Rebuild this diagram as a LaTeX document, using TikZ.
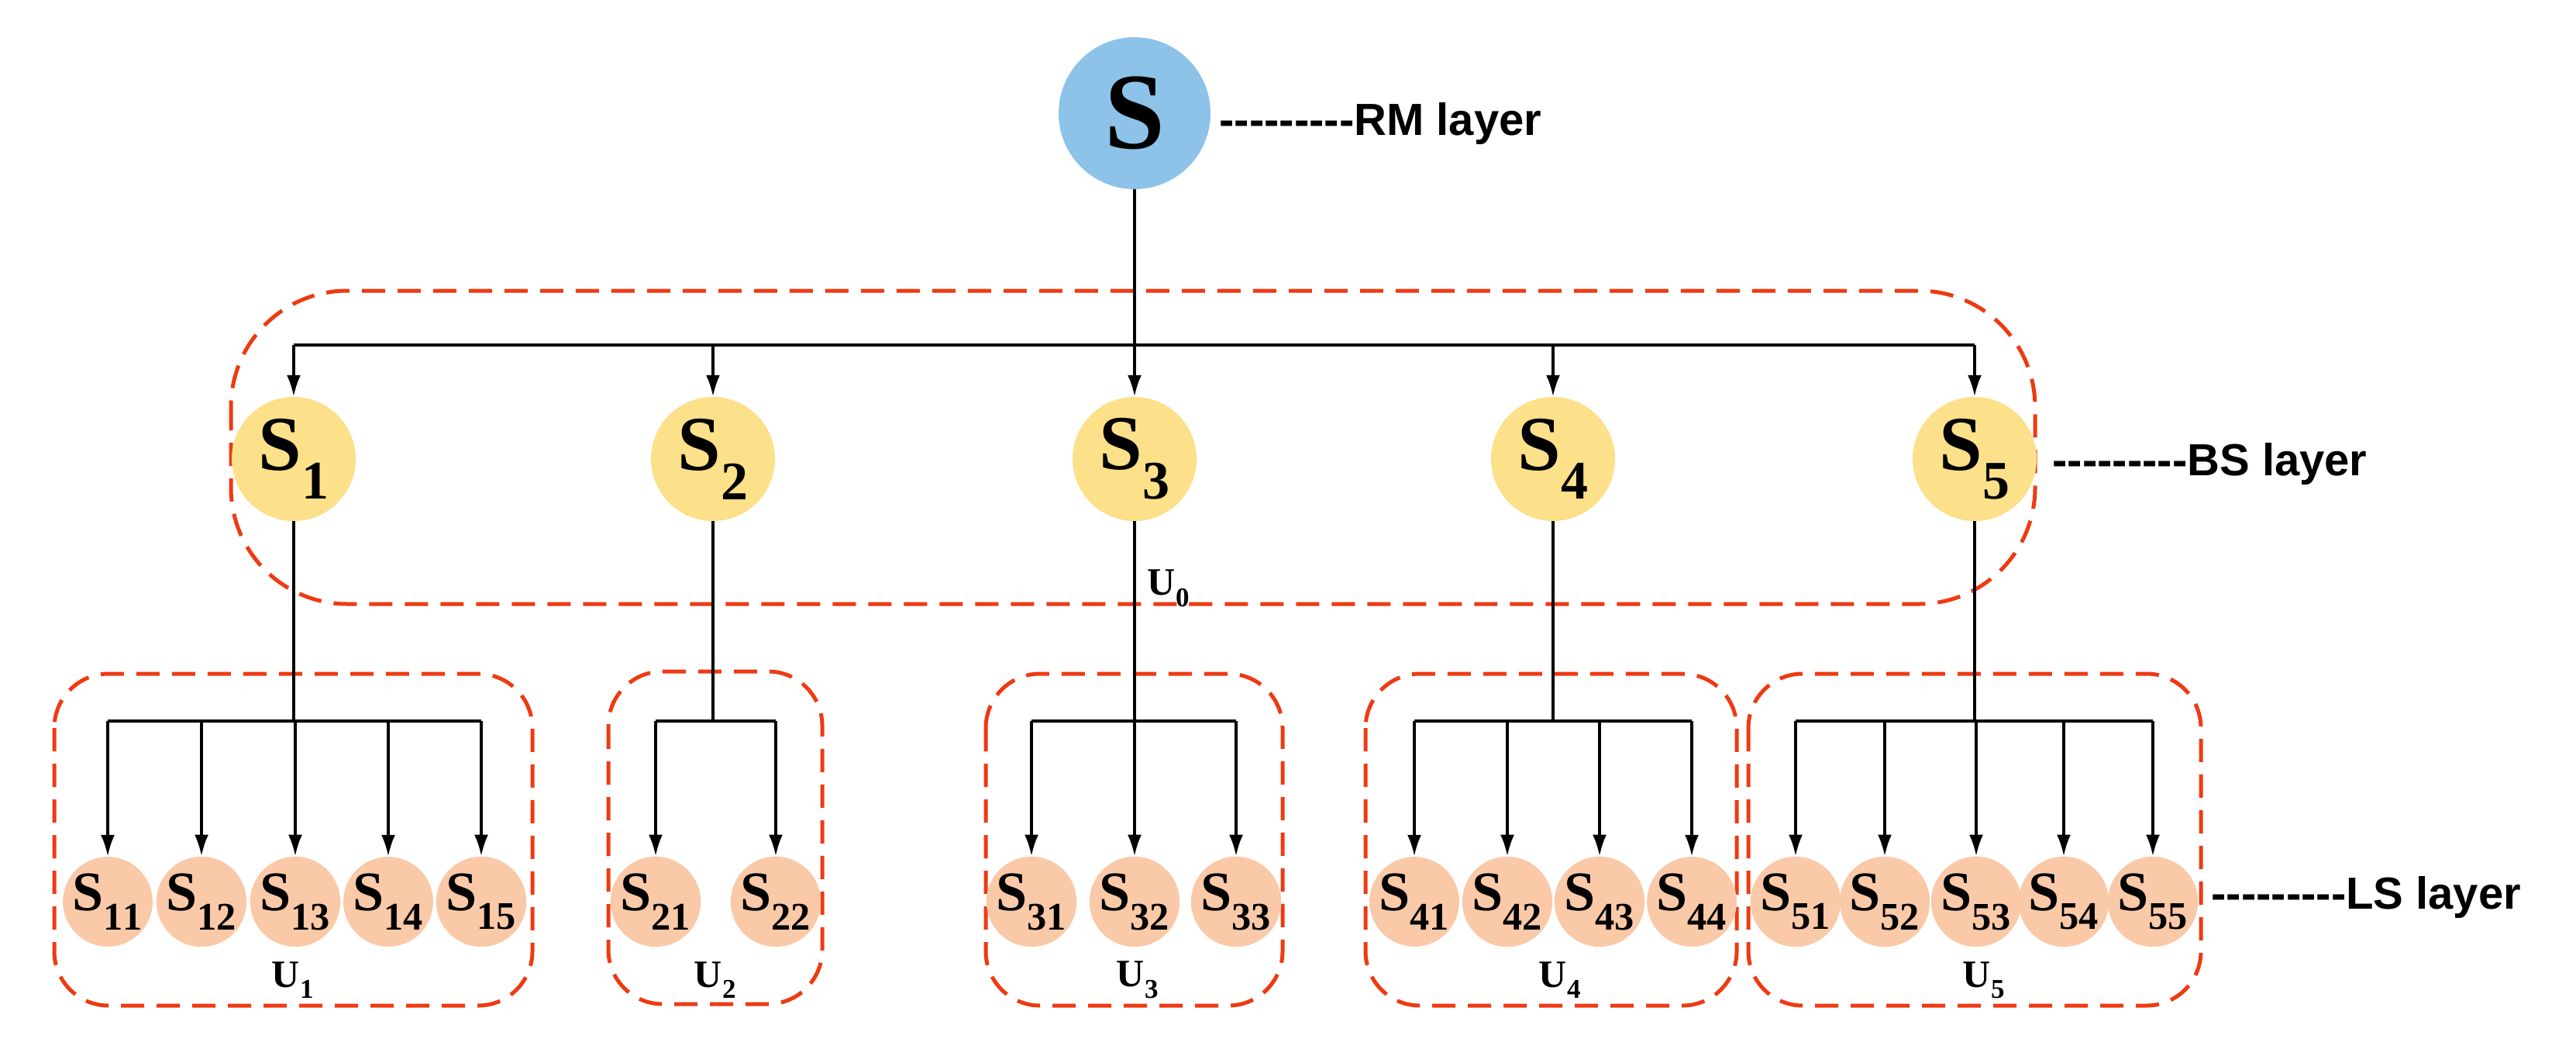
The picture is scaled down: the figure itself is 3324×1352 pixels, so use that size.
\documentclass[tikz,border=0pt]{standalone}
\usepackage{fontspec}
\usetikzlibrary{arrows.meta}
\setmainfont{Liberation Serif}
\newfontfamily\lab{Liberation Sans}
\begin{document}
\begin{tikzpicture}[x=1pt,y=-1pt,
  ln/.style={line width=4pt,black},
  ar/.style={ln,-{Latex[length=28pt,width=18pt]}},
  grp/.style={line width=5pt,dash pattern=on 30pt off 16pt,rounded corners=70pt},
  root/.style={circle,minimum size=196pt,inner sep=0pt,font=\bfseries\fontsize{140}{140}\selectfont},
  bs/.style={circle,minimum size=160pt,inner sep=0pt,font=\bfseries\fontsize{100}{100}\selectfont},
  ls/.style={circle,minimum size=114pt,inner sep=0pt,font=\bfseries\fontsize{72}{72}\selectfont},
  lay/.style={anchor=west,font=\lab\bfseries\fontsize{58}{58}\selectfont},
  ul/.style={font=\bfseries\fontsize{50}{50}\selectfont}]
\useasboundingbox (0,0) rectangle (3324,1352);
\definecolor{rootc}{HTML}{8DC3E8}\definecolor{bsc}{HTML}{FCE08A}\definecolor{lsc}{HTML}{FAC9A8}\definecolor{grc}{HTML}{EE3A12}
\tikzset{root/.append style={fill=rootc},bs/.append style={fill=bsc},ls/.append style={fill=lsc},grp/.append style={draw=grc}}
% groups
\draw[grp,rounded corners=150pt] (298,375) rectangle (2626,779);
\draw[grp] (70,869) rectangle (687,1297);
\draw[grp] (785,866) rectangle (1061,1295);
\draw[grp] (1272,869) rectangle (1655,1297);
\draw[grp] (1762,869) rectangle (2241,1297);
\draw[grp] (2256,869) rectangle (2840,1297);
% nodes
\node[root] (S) at (1464,146) {S};
\foreach \i/\x in {1/379,2/920,3/1464,4/2004,5/2548}
  \node[bs] (S\i) at (\x,592) {S$_{\mathbf{\i}}$};
\foreach \g/\j/\x in {1/1/139,1/2/260,1/3/381,1/4/501,1/5/621,2/1/846,2/2/1001,
  3/1/1331,3/2/1464,3/3/1595,4/1/1825,4/2/1945,4/3/2064,4/4/2183,
  5/1/2317,5/2/2432,5/3/2550,5/4/2663,5/5/2778}
  \node[ls] (S\g\j) at (\x,1163) {S$_{\mathbf{\g\j}}$};
% labels
\node[lay] (rm) at (1570,160) {-{}-{}-{}-{}-{}-{}-{}-{}-{}RM layer};
\node[lay] (bsl) at (2645,598) {-{}-{}-{}-{}-{}-{}-{}-{}-{}BS layer};
\node[lay] (lsl) at (2850,1157) {-{}-{}-{}-{}-{}-{}-{}-{}-{}LS layer};
\node[ul] (U0) at (1508,759) {U$_{\mathbf 0}$};
\node[ul] (U1) at (378,1264) {U$_{\mathbf 1}$};
\node[ul] (U2) at (923,1264) {U$_{\mathbf 2}$};
\node[ul] (U3) at (1468,1264) {U$_{\mathbf 3}$};
\node[ul] (U4) at (2013,1264) {U$_{\mathbf 4}$};
\node[ul] (U5) at (2560,1264) {U$_{\mathbf 5}$};
% top tree
\coordinate (b0) at (1464,445);
\coordinate (h) at (0,930);
\draw[ln] (S) -- (b0);
\draw[ln] (S1|-b0) -- (S5|-b0);
\foreach \i in {1,...,5} \draw[ar] (S\i|-b0) -- (S\i);
% lower trees
\foreach \g/\a/\b/\n in {1/1/5/5,2/1/2/2,3/1/3/3,4/1/4/4,5/1/5/5}{
  \coordinate (c\g) at (S\g|-h);
  \draw[ln] (S\g) -- (c\g);
  \draw[ln] (S\g\a|-c\g) -- (S\g\b|-c\g);
  \foreach \j in {1,...,\n} \draw[ar] (S\g\j|-c\g) -- (S\g\j);
}
\end{tikzpicture}
\end{document}
